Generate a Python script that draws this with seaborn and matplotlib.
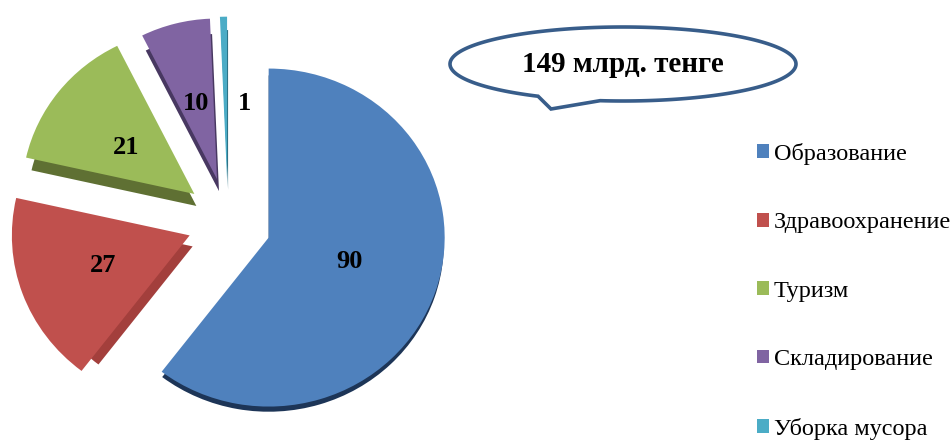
import numpy as np
import pandas as pd
import matplotlib
matplotlib.use("Agg")
import matplotlib.pyplot as plt
import seaborn as sns
from matplotlib.patches import Polygon

# -------------------------------
# DATA
# -------------------------------
categories = ["Образование", "Здравоохранение", "Туризм", "Складирование", "Уборка мусора"]
values = [90, 27, 21, 10, 1]
callout_text = "149 млрд. тенге"

face_colors = ["#4f81bd", "#c0504d", "#9bbb59", "#8064a2", "#4bacc6"]
side_colors = ["#1d3557", "#a33f3c", "#5f7033", "#483861", "#2b6f82"]

df = pd.DataFrame({"category": categories, "value": values})

# -------------------------------
# THEME
# -------------------------------
sns.set_theme(style="white")
plt.rcParams["font.family"] = ["Liberation Serif", "DejaVu Serif"]

W, H = 952, 442
fig = plt.figure(figsize=(W / 100, H / 100), dpi=100)

# pie axes: unit circle is slightly flattened like the tilted original
cx, cy, rx, ry = 228, 222, 176, 169
ax = fig.add_axes([0, 0, 1, 1])
explode = [0.25] * len(df)

# per slice nudges in pixels, the original has a bit of perspective
nudge_x = [-1, 3, 1, 0, 0]
nudge_y = [2, -1, -2, -2, 0]
radius = [1.0, 1.01, 0.98, 0.95, 0.965]

# side walls first, each pushed down a little, then the top faces
walls, _ = ax.pie(df["value"], colors=sns.color_palette(side_colors), startangle=90,
                  counterclock=False, explode=explode, wedgeprops={"linewidth": 0})
shift_x = [0, 3, 2, 2, 1]
shift_y = [6, 11, 12, 12, 10]
shrink = [0.005, 0.13, 0.02, 0.02, 0.02]
for w, nx, ny, r, sx, sy, s in zip(walls, nudge_x, nudge_y, radius, shift_x, shift_y, shrink):
    x0, y0 = w.center
    w.set_center((x0 + (nx + sx) / rx, y0 - (ny + sy) / ry))
    w.set_radius(r - s)

wedges, _ = ax.pie(df["value"], colors=sns.color_palette(face_colors), startangle=90,
                   counterclock=False, explode=explode, wedgeprops={"linewidth": 0})
for w, nx, ny, r in zip(wedges, nudge_x, nudge_y, radius):
    x0, y0 = w.center
    w.set_center((x0 + nx / rx, y0 - ny / ry))
    w.set_radius(r)

ax.set_aspect("auto")
ax.set_xlim(-cx / rx, (W - cx) / rx)
ax.set_ylim(-(H - cy) / ry, cy / ry)
ax.axis("off")

# overlay in pixel units for the labels and the speech bubble
over = fig.add_axes([0, 0, 1, 1], facecolor="none")
over.set_xlim(0, W)
over.set_ylim(H, 0)
over.axis("off")

label_x = [349, 103, 126, 196, 244]
label_y = [261, 266, 148, 104, 104]
for x, y, v in zip(label_x, label_y, df["value"]):
    over.text(x, y, str(v), ha="center", va="center", fontsize=19, fontweight="bold", color="black")

# speech bubble, the outline runs round the ellipse and closes through the tail tip
t = np.radians(np.linspace(119.4, 457.6, 200))
ex = 623 + 173 * np.cos(t)
ey = 64 + 37 * np.sin(t)
bubble = np.vstack([np.column_stack([ex, ey]), [[551, 109]]])
over.add_patch(Polygon(bubble, closed=True, facecolor="white", edgecolor="#385d8a", linewidth=2.6))
over.text(623, 65, callout_text, ha="center", va="center", fontsize=21, fontweight="bold", color="black")

# legend
fig.legend(wedges, df["category"], loc="upper left", bbox_to_anchor=(757 / W, 1 - 143 / H),
           frameon=False, fontsize=17.5, handlelength=0.5, handleheight=0.5, handletextpad=0.2,
           labelspacing=1.95, borderpad=0, borderaxespad=0, labelcolor="black")

fig.savefig("out.png", dpi=100)
plt.close(fig)
